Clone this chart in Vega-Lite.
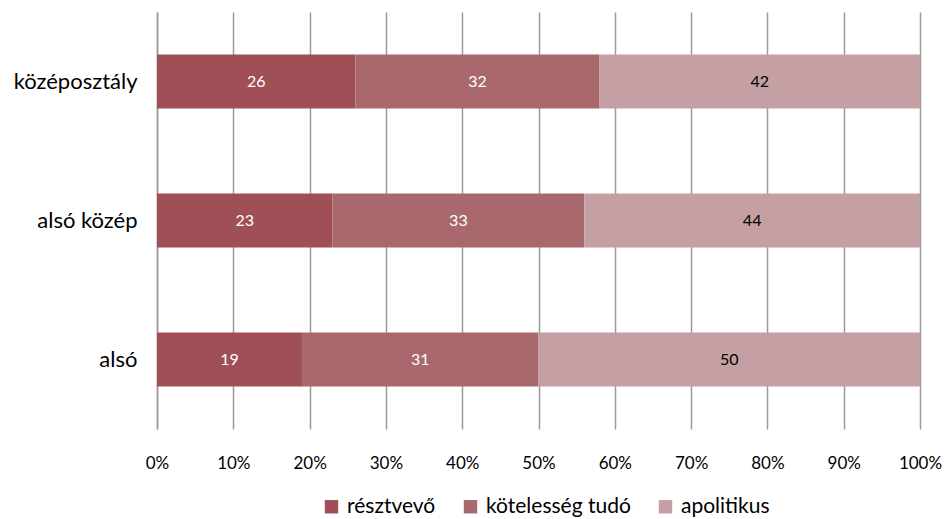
{
  "$schema": "https://vega.github.io/schema/vega-lite/v6.json",
  "width": 763,
  "height": 417,
  "autosize": {"type": "none"},
  "padding": {"left": 157, "top": 12, "right": 24, "bottom": 90},
  "background": "white",
  "config": {
    "view": {"stroke": null},
    "font": "Lato"
  },
  "data": {
    "values": [
      {"group": "középosztály", "cat": "résztvevő", "ord": 1, "value": 26},
      {"group": "középosztály", "cat": "kötelesség tudó", "ord": 2, "value": 32},
      {"group": "középosztály", "cat": "apolitikus", "ord": 3, "value": 42},
      {"group": "alsó közép", "cat": "résztvevő", "ord": 1, "value": 23},
      {"group": "alsó közép", "cat": "kötelesség tudó", "ord": 2, "value": 33},
      {"group": "alsó közép", "cat": "apolitikus", "ord": 3, "value": 44},
      {"group": "alsó", "cat": "résztvevő", "ord": 1, "value": 19},
      {"group": "alsó", "cat": "kötelesség tudó", "ord": 2, "value": 31},
      {"group": "alsó", "cat": "apolitikus", "ord": 3, "value": 50}
    ]
  },
  "transform": [
    {"stack": "value", "groupby": ["group"], "sort": [{"field": "ord", "order": "ascending"}], "as": ["v0", "v1"]},
    {"calculate": "(datum.v0 + datum.v1) / 2", "as": "mid"}
  ],
  "encoding": {
    "y": {
      "field": "group",
      "type": "nominal",
      "sort": ["középosztály", "alsó közép", "alsó"],
      "scale": {"paddingInner": 0.61, "paddingOuter": 0.305},
      "axis": {
        "title": null,
        "domainColor": "#9a9a9a",
        "domainWidth": 1.5,
        "ticks": false,
        "labelFontSize": 22,
        "labelColor": "#000000",
        "labelPadding": 20,
        "labelFont": "Lato",
        "labelLimit": 300
      }
    }
  },
  "layer": [
    {
      "mark": {"type": "bar"},
      "encoding": {
        "x": {
          "field": "v0",
          "type": "quantitative",
          "scale": {"domain": [0, 100], "nice": false},
          "axis": {
            "title": null,
            "values": [0, 10, 20, 30, 40, 50, 60, 70, 80, 90, 100],
            "labelExpr": "datum.value + '%'",
            "labelFlush": false,
            "grid": true,
            "gridColor": "#9a9a9a",
            "gridWidth": 1.5,
            "domain": false,
            "ticks": false,
            "labelPadding": 26,
            "labelFontSize": 17,
            "labelColor": "#000000",
            "labelFont": "Lato"
          }
        },
        "x2": {"field": "v1"},
        "color": {
          "field": "cat",
          "type": "nominal",
          "scale": {
            "domain": ["résztvevő", "kötelesség tudó", "apolitikus"],
            "range": ["#a14f57", "#a9686c", "#c4a0a4"]
          },
          "legend": {
            "orient": "none",
            "legendX": 164,
            "legendY": 484,
            "direction": "horizontal",
            "title": null,
            "symbolType": "square",
            "symbolSize": 180,
            "symbolStrokeWidth": 0,
            "labelFontSize": 21,
            "labelFont": "Lato",
            "labelColor": "#000000",
            "labelLimit": 300,
            "columnPadding": 24,
            "labelOffset": 5
          }
        }
      }
    },
    {
      "mark": {"type": "text", "fontSize": 16, "font": "Lato"},
      "encoding": {
        "x": {"field": "mid", "type": "quantitative"},
        "text": {"field": "value", "type": "quantitative"},
        "color": {
          "condition": {"test": "datum.ord < 3", "value": "#ffffff"},
          "value": "#000000"
        }
      }
    }
  ]
}
